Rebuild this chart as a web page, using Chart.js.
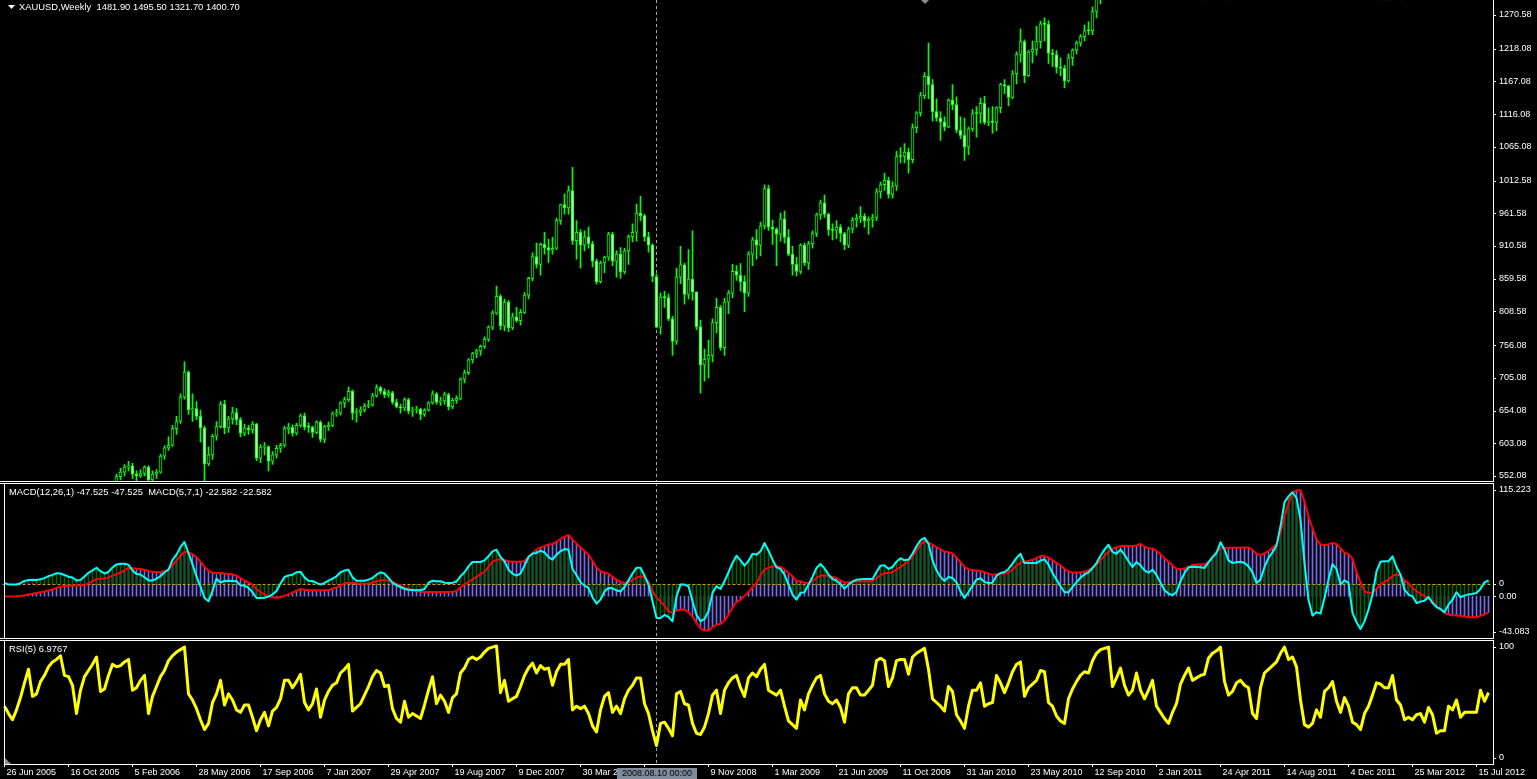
<!DOCTYPE html>
<html>
<head>
<meta charset="utf-8">
<title>XAUUSD Weekly</title>
<script src="https://cdn.jsdelivr.net/npm/chart.js@4.4.1/dist/chart.umd.min.js"></script>
<style>
  html, body { margin: 0; padding: 0; background: #000; overflow: hidden; }
  #terminal { position: relative; width: 1537px; height: 779px; background: #000; }
  #terminal canvas { position: absolute; left: 0; }
</style>
</head>
<body>
<div id="terminal">
  <canvas id="priceChart" width="1537" height="482" style="top:0"></canvas>
  <canvas id="macdChart" width="1537" height="156" style="top:483px"></canvas>
  <canvas id="rsiChart" width="1537" height="139" style="top:640px"></canvas>
</div>
<script>
// weekly bars, the first one is the week of 26 Jun 2005
const openP = [
  430,436,424,422,425,429,438,446,442,440, 446,449,460,469,473,467,471,469,474,464,
  462,485,495,497,525,505,501,513,542,551, 558,566,568,555,552,556,566,546,555,558,
  583,596,600,626,637,675,714,655,657,645, 627,571,585,614,629,664,627,641,651,640,
  619,627,624,633,580,597,598,575,585,595, 600,626,628,619,631,646,628,628,620,636,
  609,629,631,649,650,666,671,684,650,652, 655,661,663,677,690,684,679,682,667,660,
  658,671,653,655,656,648,655,666,680,667, 669,679,660,670,673,703,713,733,743,747,
  754,765,784,806,832,786,823,783,800,794, 807,834,860,894,882,913,908,904,907,950,
  975,970,997,919,932,912,925,914,887,855, 884,893,929,887,898,870,903,925,932,962,
  958,925,912,863,784,831,830,797,762,862, 881,835,859,839,785,725,734,740,791,815,
  752,823,837,871,865,855,837,898,920,912, 942,1000,940,937,929,953,924,898,882,871,
  912,884,914,930,959,978,960,936,935,940, 930,912,937,951,954,957,950,952,955,995,
  1006,1013,991,1004,1050,1050,1057,1045,1095,1118, 1145,1175,1162,1120,1110,1104,1096,1138,1131,1091,
  1083,1065,1093,1117,1117,1133,1103,1105,1103,1126, 1162,1160,1142,1179,1209,1229,1176,1213,1217,1229,
  1257,1256,1211,1209,1189,1188,1168,1204,1216,1227, 1237,1246,1246,1276,1297,1317,1346,1369,1326,1349,
  1394,1367,1352,1362,1404,1385,1376,1380,1405,1369, 1361,1343,1339,1348,1361,1388,1410,1429,1420,1418,
  1429,1429,1474,1486,1504,1557,1491,1492,1510,1536, 1542,1546,1539,1501,1486,1542,1594,1601,1628,1663,
  1745,1851,1828,1877,1855,1812,1657,1623,1636,1683, 1642,1743,1754,1788,1724,1685,1746,1712,1597,1606,
  1565,1617,1640,1665,1725,1724,1725,1725,1776,1710, 1711,1657,1662,1668,1642,1660,1642,1663,1643,1578,
  1592,1573,1622,1595,1626,1572,1598,1582,1588,1583, 1620,1603
];
const highP = [
  441,437,427,428,431,440,448,448,443,449, 452,462,474,476,475,476,475,476,476,466,
  487,497,500,530,541,512,516,544,555,564, 570,575,572,560,562,568,568,560,562,586,
  599,613,631,645,680,730,716,680,668,655, 630,597,617,637,668,670,645,659,657,643,
  633,631,637,634,601,604,599,590,600,603, 630,634,632,634,649,650,635,630,638,638,
  631,636,652,656,668,675,691,686,657,660, 665,670,681,694,692,688,686,684,672,664,
  674,673,659,661,658,657,668,685,682,675, 683,681,673,677,705,717,735,745,750,756,
  769,786,810,848,835,828,826,806,815,812, 838,862,900,915,915,932,921,924,954,976,
  992,1004,1033,950,936,934,940,918,890,887, 895,932,932,903,908,907,928,945,976,988,
  960,932,914,867,837,840,836,801,876,910, 884,905,934,839,795,750,764,797,829,818,
  829,841,882,880,883,864,902,924,936,948, 1006,1005,951,939,962,965,936,910,893,914,
  915,918,934,962,982,990,962,945,950,944, 932,940,955,960,972,961,956,960,1000,1010,
  1024,1018,1011,1058,1064,1070,1063,1101,1120,1150, 1181,1227,1170,1140,1120,1112,1140,1162,1143,1112,
  1110,1096,1123,1128,1141,1144,1126,1128,1128,1164, 1170,1161,1184,1213,1249,1232,1215,1230,1253,1261,
  1266,1262,1217,1215,1204,1192,1210,1218,1230,1240, 1255,1260,1283,1300,1321,1351,1387,1373,1350,1398,
  1425,1390,1384,1408,1432,1406,1392,1422,1415,1392, 1375,1348,1352,1368,1391,1415,1440,1445,1433,1448,
  1444,1478,1490,1507,1575,1577,1519,1515,1539,1550, 1550,1552,1556,1512,1545,1595,1610,1628,1681,1814,
  1880,1912,1882,1921,1860,1813,1675,1677,1690,1683, 1750,1763,1802,1791,1732,1764,1756,1715,1624,1617,
  1625,1647,1667,1730,1764,1739,1738,1781,1790,1725, 1714,1675,1685,1682,1676,1662,1666,1673,1645,1596,
  1595,1627,1640,1632,1628,1605,1625,1599,1601,1627, 1624,1630
];
const lowP = [
  425,421,418,419,422,426,435,438,436,437, 442,447,458,465,464,466,465,468,462,456,
  460,483,490,495,500,495,498,512,536,546, 552,560,548,542,550,552,537,542,548,556,
  578,592,598,617,634,672,648,637,640,605, 542,568,578,608,627,618,620,633,632,613,
  615,617,619,576,573,585,560,570,580,589, 597,618,614,616,628,624,620,612,618,605,
  604,623,629,645,647,659,668,640,636,646, 652,658,661,675,680,674,675,664,658,650,
  654,649,645,650,640,645,653,664,664,662, 664,655,657,665,671,697,710,728,736,740,
  751,762,780,804,780,778,777,780,792,787, 805,828,856,876,865,898,885,898,905,944,
  960,960,913,890,876,903,907,878,851,853, 869,888,880,862,860,867,882,917,918,950,
  918,901,855,783,773,815,794,740,757,852, 820,828,826,780,681,700,705,730,775,748,
  740,805,830,857,840,808,832,880,890,895, 937,935,913,880,918,915,895,865,864,867,
  880,874,907,925,952,955,927,920,922,917, 905,908,931,940,947,940,929,940,950,985,
  997,985,985,997,1040,1040,1024,1040,1087,1113, 1140,1140,1105,1105,1075,1090,1095,1123,1087,1078,
  1044,1053,1089,1080,1102,1100,1098,1086,1090,1118, 1148,1129,1140,1163,1197,1165,1175,1196,1208,1219,
  1230,1195,1190,1180,1176,1157,1166,1192,1210,1222, 1230,1240,1240,1266,1288,1310,1340,1316,1318,1334,
  1360,1330,1337,1356,1378,1361,1368,1378,1355,1355, 1338,1309,1330,1342,1355,1381,1404,1412,1402,1415,
  1415,1420,1455,1475,1500,1462,1480,1478,1505,1520, 1522,1512,1495,1478,1481,1540,1575,1590,1610,1660,
  1738,1705,1810,1832,1760,1636,1532,1603,1620,1605, 1626,1702,1748,1715,1670,1682,1700,1590,1575,1523,
  1560,1610,1630,1652,1715,1708,1700,1717,1690,1675, 1634,1642,1652,1611,1638,1625,1635,1630,1576,1527,
  1540,1532,1585,1590,1562,1548,1572,1564,1570,1574, 1593,1600
];
const closeP = [
  436,424,422,425,429,438,446,442,440,446, 449,460,469,473,467,471,469,474,464,462,
  485,495,497,525,505,501,513,542,551,558, 566,568,555,552,556,566,546,555,558,583,
  596,600,626,637,675,714,655,657,645,627, 571,585,614,629,664,627,641,651,640,619,
  627,624,633,580,597,598,575,585,595,600, 626,628,619,631,646,628,628,620,636,609,
  629,631,649,650,666,671,684,650,652,655, 661,663,677,690,684,679,682,667,660,658,
  671,653,655,656,648,655,666,680,667,669, 679,660,670,673,703,713,733,743,747,754,
  765,784,806,832,786,823,783,800,794,807, 834,860,894,882,913,908,904,907,950,975,
  970,997,919,932,912,925,914,887,855,884, 893,929,887,898,870,903,925,932,962,958,
  925,912,863,784,831,830,797,762,862,881, 835,859,839,785,725,734,740,791,815,752,
  823,837,871,865,855,837,898,920,912,942, 1000,940,937,929,953,924,898,882,871,912,
  884,914,930,959,978,960,936,935,940,930, 912,937,951,954,957,950,952,955,995,1006,
  1013,991,1004,1050,1050,1057,1045,1095,1118,1145, 1175,1162,1120,1110,1104,1096,1138,1131,1091,1083,
  1065,1093,1117,1117,1133,1103,1105,1103,1126,1162, 1160,1142,1179,1209,1229,1176,1213,1217,1229,1257,
  1256,1211,1209,1189,1188,1168,1204,1216,1227,1237, 1246,1246,1276,1297,1317,1346,1369,1326,1349,1394,
  1367,1352,1362,1404,1385,1376,1380,1405,1369,1361, 1343,1339,1348,1361,1388,1410,1429,1420,1418,1429,
  1429,1474,1486,1504,1557,1491,1492,1510,1536,1542, 1546,1539,1501,1486,1542,1594,1601,1628,1663,1745,
  1851,1828,1877,1855,1812,1657,1623,1636,1683,1642, 1743,1754,1788,1724,1685,1746,1712,1597,1606,1565,
  1617,1640,1665,1725,1724,1725,1725,1776,1710,1711, 1657,1662,1668,1642,1660,1642,1663,1643,1578,1592,
  1573,1622,1595,1626,1572,1598,1582,1588,1583,1620, 1603,1618
];

// MACD(12,26,1): red signal line, slate histogram
const macdSlow = [
  -0.3,-0.3,-0.3,-0.2,0,0.8,1.7,2.5,3.2,4, 4.8,5.8,6.8,8.3,9.6,10.3,10.6,10.8,10.9,11.1,
  11.5,13,15.5,17.4,17.8,18,19.2,21,22.5,24.2, 26.5,29,28.7,28.2,27.8,27,25.9,25,24.5,24.8,
  25.5,27.3,31.5,36.5,41.5,45.6,45,43,40,35.5, 30,26,23.8,23.8,23.8,23.2,22.8,22.4,21,18.5,
  16,13.8,11.8,7.1,4.2,1.8,-0.3,-1.3,-1.7,-1.3, 0.4,1.8,3.5,5.5,7.3,6.6,5.9,5.9,5.9,5.9,
  5.9,5.9,7.6,9,10.7,13.1,13.8,13.5,13.1,12.8, 12.8,12.8,13.8,15.5,16.2,16.2,16.2,14.9,12.4,10.7,
  8.6,7.6,6.2,5.2,4.5,4.2,4.2,4.2,4.2,4.2, 4.2,4.2,4.5,5.2,9,12.1,14.5,17.3,19.7,22.8,
  24.9,30,35.5,37.3,37.9,36.9,35.9,35.2,35.2,35.2, 36.2,40.4,43.8,48,50,51.4,53.1,53.5,55.9,58.7,
  61.1,62.8,58.3,54.2,50,46.6,42.8,36.2,29.3,25.5, 24.2,23.1,19.7,16.9,14.5,13.5,14.2,16.6,19,20.4,
  19.7,14.5,5.2,-1.7,-5.5,-10,-15.5,-17.6,-14.8,-14.1, -14.1,-16.5,-21,-27.9,-33.1,-35.5,-35.5,-32.1,-29.3,-28.6,
  -25.2,-19.3,-12,-6.2,-3.8,0,4.2,9.3,13.5,21.4, 27.3,29.3,30.4,30.7,30,27.3,23.8,20.4,15.5,15.2,
  13.8,13.5,15.5,18.6,21.1,21.1,20.7,20,18.6,16.2, 13.8,14.2,14.9,15.2,15.2,15.2,15.2,15.5,18.3,21.4,
  23.8,23.8,24.5,27.3,30,32.8,36.2,40.4,47.3,52.5, 56.9,54.9,52.8,50.4,48,45.9,45.2,43.8,39.7,34.9,
  30,27.6,26.6,26.2,25.9,24.5,23.1,21.8,22.4,22.4, 23.1,24.5,27.3,31.4,34.5,35.2,36.2,37.3,39,41.1,
  41.1,39.7,36.9,34.2,31.4,28,25.5,24.2,24.2,24.2, 25.2,26.6,29,32.1,36.9,41.4,45.6,48.7,50,51.4,
  51.8,51.4,51.4,52.1,53.5,50.7,49.3,49,46.2,43.1, 39,35.2,31.8,28,27.3,28.3,30,31.8,32.5,32.5,
  32.8,35.2,39.7,45.6,49,49.7,49.7,49.7,49.7,49.7, 50,50,47.3,43.5,42.1,43.8,46.2,49.7,53.5,64.5,
  81.8,95.6,105.9,108.7,108.7,97.3,81.8,69.7,58.3,53.1, 52.5,53.1,54.9,53.5,49,44.5,43.1,38.7,24.9,14.2,
  5.2,3.1,3.8,7.3,12.1,14.5,16.9,20.7,22.4,21.1, 16.2,12.8,8.6,5.2,2.4,0,-1.7,-5.1,-10.3,-14.1,
  -17.2,-18.9,-19.6,-20,-20.3,-21,-21.7,-21.7,-21.7,-20.3, -18.9,-16.9
];
// MACD(5,7,1): aqua signal line, green histogram (own scale)
const macdFast = [
  0.8,-0.4,-0.4,-0.3,0.5,2,2.6,2.8,2.6,3.2, 3.9,5.2,6,7.2,7,6,4.8,4.3,2.3,2.6,
  5,7.4,9,10.8,8.5,7,8,11,13,13.5, 13.5,12.8,9,6.6,6.3,4.5,2.4,2.4,3.5,5.2,
  7.8,9.5,16,19.5,24.5,27.9,20.6,13,5,-1.8, -9.3,-11.5,-4.5,3.5,1,2,2.1,2,1.8,-0.9,
  -1.1,-2.6,-5.5,-9.3,-9.3,-9.1,-8.4,-6.9,-4.6,0.3, 4.7,5.6,6.2,7.8,8.2,4.4,2.2,2,0.7,-0.4,
  0.7,2.2,3.6,5.1,7.8,8.9,9.5,4.4,2.2,2.2, 2.2,2.9,4,6.2,7.8,6.9,4,0.7,-0.7,-2,
  -3.3,-3.8,-4,-4.2,-4.2,-3.3,0.7,2.2,1.8,1.8, 0.9,0.7,0.7,1.8,5.1,7.8,11.7,14.6,14.6,14.6,
  15.7,18.4,21.7,22.8,17.9,15.1,9.5,6.9,5.5,6.9, 12.2,17.9,20.2,20.6,22.1,21,17.9,16.2,19.5,21.7,
  23.2,22.8,10,6,1.1,-1.1,-2.6,-8.8,-13.1,-10.4, -4.9,-2.6,-2.9,-4.2,-5.1,-2,2.4,6.9,10.8,10.8,
  5.5,-0.4,-11.5,-22.6,-22.6,-20.6,-21.9,-24.8,-8.2,-0.4, -0.4,-1.5,-11.5,-20.4,-24.8,-23.2,-18.1,-5.9,-1.5,-3.3,
  1.8,7.8,14,18.8,15.7,12.2,15.3,20.1,19.5,21.7, 27.2,22.1,16.2,11.1,10,6.2,-0.4,-7.1,-10.4,-5.9,
  -5.5,-0.4,4.7,10.6,13.3,10.4,6.2,3.3,2.2,0, -3.1,-0.4,1.6,2.9,3.1,3.3,3.3,3.3,8,12.2,
  12.4,10,11.3,14.8,17.1,15.7,16.2,20.1,25,29, 30.6,26.8,15.7,9.1,4.7,2,4.7,4,1.1,-4.9,
  -9.3,-5.5,-1.1,2.9,3.8,1.3,0.7,0.9,5.5,7.3, 8,10,13.5,17.3,20.1,13.9,13.9,13.9,13.9,15.5,
  16.4,12.8,7.3,2.9,-1.5,-5.5,-5.5,-2,1.1,4.2, 6.4,7.7,10.6,13.9,18.8,22.8,26.1,21.3,20.1,22.8,
  19.5,15.1,11.3,14.6,12.4,9.1,7.5,9.5,6,0.9, -4.2,-6.4,-7.5,-5.3,1.8,7.3,11.1,11.5,11.3,11.1,
  10.6,14.4,17.9,20.6,27.7,22.8,15.7,13.9,14.4,14.8, 13.9,11.7,7.7,0.7,2.9,11.3,17.3,21,25.5,38.3,
  54.2,58.2,60.9,57.1,42.7,13.9,-10.4,-21,-18.8,-19.7, -9.3,2.9,13.1,10,-0.4,2.4,0.7,-19.2,-25.4,-29.9,
  -24.8,-17,-7.1,8.4,14.8,15.1,15.1,18.4,11.3,6.2, -3.8,-7.1,-8.2,-12.6,-11.7,-11.1,-8.6,-12.6,-15.3,-16.6,
  -18.8,-13.7,-10.4,-5.5,-8.8,-7.7,-6.9,-6.6,-6,-3.3, 1.1,2.4
];
// RSI(5)
const rsiVals = [
  47,41,36,44,54,66,77,55,57,67, 72,79,83,85,88,72,71,64,41,60,
  71,76,81,87,59,61,72,81,79,80, 83,85,60,62,68,72,41,55,63,71,
  76,84,88,91,93,95,57,52,45,36, 28,33,50,57,68,48,57,52,44,42,
  48,48,38,27,36,42,31,43,46,53, 68,68,62,67,73,50,44,49,61,38,
  52,59,64,66,74,77,81,43,46,49, 56,63,71,76,74,63,64,45,37,34,
  51,38,41,39,37,48,60,71,49,56, 51,42,54,57,74,78,85,87,85,87,
  91,94,95,96,58,68,51,53,55,63, 72,78,82,74,80,77,78,64,75,81,
  81,85,44,47,45,47,41,31,26,44, 55,58,42,47,41,53,60,64,70,70,
  49,41,27,15,33,34,29,23,57,59, 49,48,33,25,24,30,41,56,60,41,
  60,66,70,72,62,55,70,74,71,77, 81,60,58,56,60,47,35,32,29,52,
  44,57,64,70,72,57,51,49,52,46, 34,57,62,62,56,56,60,64,84,86,
  84,63,70,84,85,85,73,87,90,92, 94,77,53,50,47,43,63,59,40,35,
  29,47,60,60,66,47,49,50,72,66, 58,66,75,81,83,55,62,65,68,76,
  75,50,47,39,35,33,53,61,67,72, 75,74,84,90,93,94,95,63,70,78,
  64,56,60,74,60,53,60,68,47,42, 37,33,42,49,65,72,78,68,70,72,
  73,86,90,92,95,67,56,59,66,68, 64,62,41,37,62,74,77,80,83,90,
  95,85,87,79,52,32,30,33,44,38, 59,62,67,51,42,54,47,34,32,28,
  41,47,56,66,65,62,62,72,52,48, 36,38,36,40,41,34,46,40,25,27,
  27,47,44,52,38,42,42,42,42,60, 51,58
];

const priceTicks = [1270.58, 1218.08, 1167.08, 1116.08, 1065.08, 1012.58, 961.58, 910.58,
  859.58, 808.58, 756.08, 705.08, 654.08, 603.08, 552.08];
const tickBars = [0, 16, 32, 48, 64, 80, 96, 112, 128, 144, 160, 176, 192, 208, 224, 240,
  256, 272, 288, 304, 320, 336, 352, 368];
const tickDates = ['26 Jun 2005', '16 Oct 2005', '5 Feb 2006', '28 May 2006', '17 Sep 2006',
  '7 Jan 2007', '29 Apr 2007', '19 Aug 2007', '9 Dec 2007', '30 Mar 2008', '20 Jul 2008',
  '9 Nov 2008', '1 Mar 2009', '21 Jun 2009', '11 Oct 2009', '31 Jan 2010', '23 May 2010',
  '12 Sep 2010', '2 Jan 2011', '24 Apr 2011', '14 Aug 2011', '4 Dec 2011', '25 Mar 2012',
  '15 Jul 2012'];

const crossBar = 163;
const crossTime = '2008.08.10 00:00';
const shiftBar = 230;  // chart shift marker at the top of the price window

// one category per week
const firstWeek = Date.UTC(2005, 5, 26);
const weeks = closeP.map((_, i) => new Date(firstWeek + i * 7 * 864e5).toISOString().slice(0, 10));

const FONT = '9px "Liberation Sans", Arial, sans-serif';
const TITLE_FONT = '9.4px "Liberation Sans", Arial, sans-serif';
Chart.defaults.font.family = '"Liberation Sans", Arial, sans-serif';
Chart.defaults.font.size = 9;
Chart.defaults.color = '#ffffff';
Chart.defaults.animation = false;
Chart.defaults.events = [];
Chart.defaults.plugins.legend.display = false;
Chart.defaults.plugins.tooltip.enabled = false;

// frame, crosshair, titles and side labels of one MT4 window
function mtWindow(cfg) {
  return {
    id: 'mtWindow',
    beforeDatasetsDraw(chart) {
      const ctx = chart.ctx;
      const x = chart.scales.x.getPixelForValue(crossBar);
      ctx.save();
      ctx.strokeStyle = '#a4a4a4';
      ctx.lineWidth = 1;
      ctx.setLineDash([3, 3]);
      ctx.beginPath();
      ctx.moveTo(x, 0);
      ctx.lineTo(x, chart.chartArea.bottom);
      ctx.stroke();
      ctx.restore();
    },
    afterDatasetDraw(chart, args) {
      if (!cfg.level || args.index !== cfg.level.after) return;
      const ctx = chart.ctx, a = chart.chartArea;
      const y = Math.round(chart.scales[cfg.level.axis].getPixelForValue(0)) + 0.5;
      ctx.save();
      ctx.strokeStyle = '#d49a12';
      ctx.lineWidth = 1;
      ctx.setLineDash([3, 2]);
      ctx.beginPath();
      ctx.moveTo(a.left, y);
      ctx.lineTo(a.right, y);
      ctx.stroke();
      ctx.restore();
    },
    afterDraw(chart) {
      const ctx = chart.ctx, a = chart.chartArea;
      ctx.save();
      ctx.fillStyle = '#ffffff';
      cfg.rects.forEach(r => ctx.fillRect(r[0], r[1], r[2], r[3]));

      ctx.font = FONT;
      ctx.textBaseline = 'middle';
      ctx.textAlign = 'left';
      // tick marks of the price scale
      if (cfg.priceMarks) {
        chart.scales.y.ticks.forEach(t => {
          ctx.fillRect(1494, Math.round(chart.scales.y.getPixelForValue(t.value)), 2, 1);
        });
      }
      // indicator scale labels, kept inside the window like MT4 does
      (cfg.yLabels || []).forEach(l => {
        let y = chart.scales[l.axis].getPixelForValue(l.value);
        y = Math.min(Math.max(y, a.top + 5.5), a.bottom - 6.5);
        ctx.fillRect(1494, Math.round(y), 2, 1);
        ctx.fillText(l.text, 1499, y);
      });
      if (cfg.arrow) {
        ctx.beginPath();
        ctx.moveTo(8, 5); ctx.lineTo(15, 5); ctx.lineTo(11.5, 9); ctx.closePath();
        ctx.fill();
      }
      if (cfg.shiftMark) {
        const sx = Math.round(chart.scales.x.getPixelForValue(shiftBar));
        ctx.fillStyle = '#8c8c8c';
        ctx.beginPath();
        ctx.moveTo(sx - 4, 0); ctx.lineTo(sx + 4, 0); ctx.lineTo(sx, 4); ctx.closePath();
        ctx.fill();
        ctx.fillStyle = '#ffffff';
      }
      if (cfg.cornerMark) {
        ctx.fillStyle = '#8c8c8c';
        ctx.beginPath();
        ctx.moveTo(5, 118); ctx.lineTo(5, 124); ctx.lineTo(11, 124); ctx.closePath();
        ctx.fill();
        ctx.fillStyle = '#ffffff';
      }
      if (cfg.title) {
        ctx.font = TITLE_FONT;
        ctx.fillText(cfg.title.text, cfg.title.x, cfg.title.y);
      }
      if (cfg.timeBox) {
        const x = chart.scales.x.getPixelForValue(crossBar);
        ctx.font = FONT;
        ctx.fillStyle = '#7d8b9a';
        ctx.fillRect(Math.round(x) - 40, 128, 80, 11);
        ctx.fillStyle = '#000000';
        ctx.textAlign = 'center';
        ctx.fillText(crossTime, Math.round(x), 134);
      }
      ctx.restore();
    }
  };
}

const hiddenX = { type: 'category', offset: true, display: false };

// price window
new Chart(document.getElementById('priceChart'), {
  type: 'bar',
  data: {
    labels: weeks,
    datasets: [
      {
        data: closeP.map((c, i) => [openP[i], c]),
        backgroundColor: closeP.map((c, i) => (c > openP[i] ? '#000000' : '#b4ffb4')),
        borderColor: '#00ff00',
        borderWidth: 1,
        borderSkipped: false,
        barThickness: 3,
        minBarLength: 1,
        grouped: false
      },
      {
        data: highP.map((h, i) => [lowP[i], h]),
        backgroundColor: '#00ff00',
        barThickness: 1,
        grouped: false
      }
    ]
  },
  options: {
    responsive: false,
    layout: { autoPadding: false, padding: { left: 2.5, top: 0, bottom: 1, right: 0 } },
    scales: {
      x: hiddenX,
      y: {
        position: 'right',
        min: 544.27,
        max: 1293.96,
        afterFit: s => { s.width = 46.5; s.paddingTop = 0; s.paddingBottom = 0; },
        afterBuildTicks: s => { s.ticks = priceTicks.map(v => ({ value: v })); },
        ticks: { color: '#ffffff', padding: 8.5, callback: v => v.toFixed(2) },
        grid: { display: false, drawTicks: false },
        border: { display: false }
      }
    }
  },
  plugins: [mtWindow({
    rects: [[0, 481, 1494, 1], [1493, 0, 1, 482]],
    priceMarks: true,
    arrow: true,
    shiftMark: true,
    title: { text: 'XAUUSD,Weekly  1481.90 1495.50 1321.70 1400.70', x: 19, y: 7 }
  })]
});

// MACD window
new Chart(document.getElementById('macdChart'), {
  type: 'bar',
  data: {
    labels: weeks,
    datasets: [
      { type: 'line', data: macdFast, yAxisID: 'yC', borderColor: '#00ffff', borderWidth: 2,
        pointRadius: 0, tension: 0, borderJoinStyle: 'round', order: 0 },
      { type: 'line', data: macdSlow, yAxisID: 'yM', borderColor: '#ff0000', borderWidth: 2,
        pointRadius: 0, tension: 0, borderJoinStyle: 'round', order: 1 },
      { data: macdFast, yAxisID: 'yC', backgroundColor: '#006400', barThickness: 1,
        grouped: false, order: 2 },
      { data: macdSlow, yAxisID: 'yM', backgroundColor: '#7b68ee', barThickness: 1,
        grouped: false, order: 3 }
    ]
  },
  options: {
    responsive: false,
    layout: { autoPadding: false, padding: { left: 2.5, right: 46.5, top: 1, bottom: 1 } },
    scales: {
      x: hiddenX,
      y: { display: false },
      yM: { display: false, min: -43.083, max: 115.223 },
      yC: { display: false, min: -35.86, max: 66.4 }
    }
  },
  plugins: [mtWindow({
    rects: [[0, 0, 1494, 1], [0, 155, 1494, 1], [4, 0, 1, 156], [1493, 0, 1, 156]],
    level: { after: 2, axis: 'yC' },
    yLabels: [
      { axis: 'yM', value: 115.223, text: '115.223' },
      { axis: 'yC', value: 0, text: '0' },
      { axis: 'yM', value: 0, text: '0.00' },
      { axis: 'yM', value: -43.083, text: '-43.083' }
    ],
    title: { text: 'MACD(12,26,1) -47.525 -47.525  MACD(5,7,1) -22.582 -22.582', x: 9, y: 9 }
  })]
});

// RSI window with the time scale
new Chart(document.getElementById('rsiChart'), {
  type: 'line',
  data: {
    labels: weeks,
    datasets: [
      { data: rsiVals, borderColor: '#ffff00', borderWidth: 3, pointRadius: 0, tension: 0,
        borderJoinStyle: 'round' }
    ]
  },
  options: {
    responsive: false,
    layout: { autoPadding: false, padding: { left: 2.5, right: 46.5, top: 1, bottom: 0 } },
    scales: {
      x: {
        type: 'category',
        offset: true,
        afterFit: s => { s.height = 15; },
        grid: {
          display: true, drawOnChartArea: false, drawTicks: true, tickLength: 3, offset: false,
          color: c => (tickBars.includes(c.index) ? '#ffffff' : 'rgba(0,0,0,0)')
        },
        border: { display: false },
        ticks: {
          autoSkip: false, maxRotation: 0, minRotation: 0, align: 'start', labelOffset: 2,
          padding: 0, color: '#ffffff',
          callback: (v, i) => { const k = tickBars.indexOf(i); return k < 0 ? '' : tickDates[k]; }
        }
      },
      y: { display: false, min: 0, max: 100 }
    }
  },
  plugins: [mtWindow({
    rects: [[0, 0, 1494, 1], [4, 0, 1, 125], [1493, 0, 1, 125], [4, 124, 1490, 1]],
    yLabels: [
      { axis: 'y', value: 100, text: '100' },
      { axis: 'y', value: 0, text: '0' }
    ],
    title: { text: 'RSI(5) 6.9767', x: 9, y: 9 },
    cornerMark: true,
    timeBox: true
  })]
});
</script>
</body>
</html>
